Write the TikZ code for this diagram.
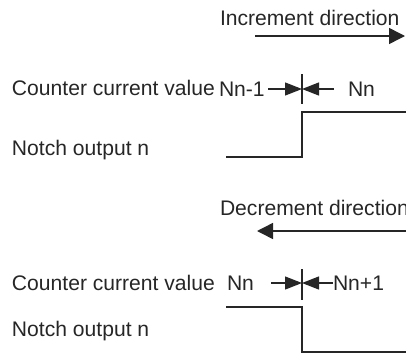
\documentclass[tikz,border=0pt]{standalone}
\usepackage{fontspec}
\setmainfont{Liberation Sans}
\usetikzlibrary{arrows.meta}
\tikzset{
  lbl/.style={anchor=base west, inner sep=0pt, outer sep=0pt, font=\fontsize{21.1}{25}\selectfont, text=black!85},
  sig/.style={line width=1.4pt, black!85},
  dirarrow/.style={line width=1.5pt, black!85, -{Triangle[length=16pt, width=16pt]}},
  posarrow/.style={line width=1.3pt, black!85, -{Triangle[length=17pt, width=13pt]}},
  tickline/.style={line width=1.2pt, black!85}
}
\begin{document}
\begin{tikzpicture}[x=1pt, y=-1pt]
\useasboundingbox (0,0) rectangle (406,356);
% ---- increment ----
\node[lbl] (inc) at (220,25) {Increment direction};
\coordinate (incA) at (255,36);
\coordinate (incB) at (405,36);
\draw[dirarrow] (incA) -- (incB);
\node[lbl] (ccv1) at (12,95) {Counter current value};
\node[lbl] (nnm1) at (219,96) {Nn-1};
\node[lbl] (nn1) at (348,96) {Nn};
\coordinate (t1a) at (302,74);
\coordinate (t1b) at (302,104);
\draw[tickline] (t1a) -- (t1b);
\coordinate (m1) at (302,89);
\coordinate (a1l) at (268,89);
\coordinate (a1r) at (334,89);
\draw[posarrow] (a1l) -- (m1);
\draw[posarrow] (a1r) -- (m1);
\node[lbl] (no1) at (12,155) {Notch output n};
\coordinate (s1a) at (226,157);
\coordinate (s1b) at (302,157);
\coordinate (s1c) at (302,112);
\coordinate (s1d) at (406,112);
\draw[sig] (s1a) -- (s1b) -- (s1c) -- (s1d);
% ---- decrement ----
\node[lbl] (dec) at (220,215) {Decrement direction};
\coordinate (decA) at (406,231);
\coordinate (decB) at (257,231);
\draw[dirarrow] (decA) -- (decB);
\node[lbl] (ccv2) at (12,290) {Counter current value};
\node[lbl] (nn2) at (227,290) {Nn};
\node[lbl] (nnp1) at (333,290) {Nn+1};
\coordinate (t2a) at (302,269);
\coordinate (t2b) at (302,300);
\draw[tickline] (t2a) -- (t2b);
\coordinate (m2) at (302,283);
\coordinate (a2l) at (271,283);
\coordinate (a2r) at (333,283);
\draw[posarrow] (a2l) -- (m2);
\draw[posarrow] (a2r) -- (m2);
\node[lbl] (no2) at (12,336) {Notch output n};
\coordinate (s2a) at (226,307);
\coordinate (s2b) at (302,307);
\coordinate (s2c) at (302,352);
\coordinate (s2d) at (406,352);
\draw[sig] (s2a) -- (s2b) -- (s2c) -- (s2d);
\end{tikzpicture}
\end{document}
